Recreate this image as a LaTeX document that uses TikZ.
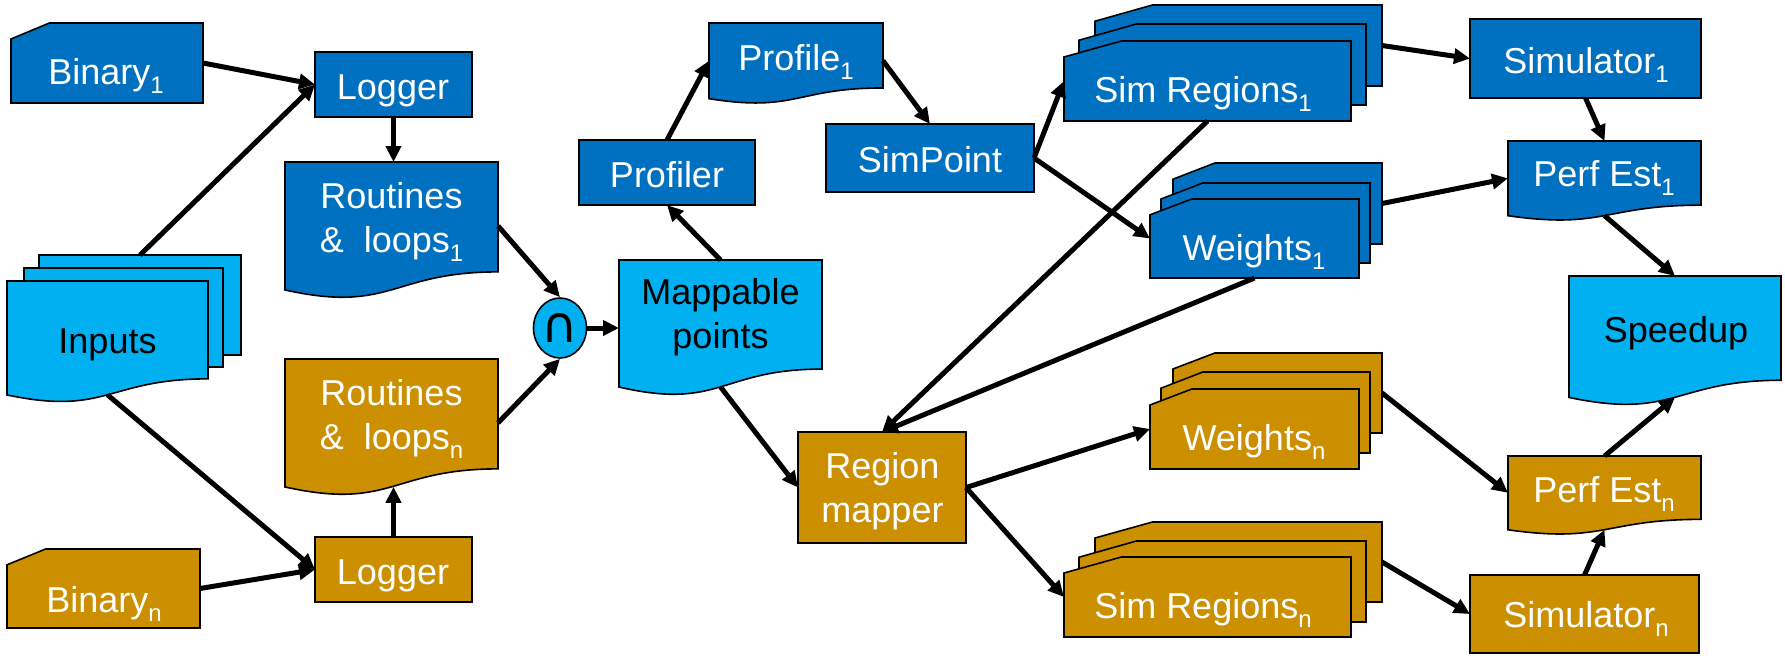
\documentclass[tikz,border=0pt]{standalone}
\usepackage{fontspec}
\setmainfont{Liberation Sans}
\newfontfamily\symfont{DejaVu Sans}
\usetikzlibrary{arrows.meta,fit,shapes.geometric}
\definecolor{dblue}{HTML}{0070C0}
\definecolor{lblue}{HTML}{00B0F0}
\definecolor{gold}{RGB}{204,143,0}

% lowered index used in the labels
\newcommand\subidx[1]{\raisebox{-4.5pt}{\fontsize{12}{12}\selectfont #1}}

\tikzset{
  outline/.style={draw=black, line width=0.8pt, line join=miter},
  frame/.style={inner sep=0pt, outer sep=0pt},
  rectbox/.style={outline, inner sep=0pt, outer sep=0pt},
  lbl/.style={anchor=base, inner sep=0pt, align=center, font=\fontsize{18}{22}\selectfont},
  wlbl/.style={lbl, text=white},
  klbl/.style={lbl, text=black},
  flow/.style={line width=2.5pt, -{Triangle[length=8pt,width=7.5pt]}},
}

% document sheet with a wavy lower edge: name, fill, x1, y1, x2, height
\newcommand\docshape[6]{%
  \path[outline, fill=#2] (#3,#4) -- (#5,#4) -- (#5,{#4+0.802*#6})
    .. controls ({(#3+#5)/2},{#4+0.802*#6}) and ({(#3+#5)/2},{#4+1.107*#6}) .. (#3,{#4+0.934*#6}) -- cycle;
  \node[frame, fit={(#3,#4) (#5,{#4+0.933*#6})}] (#1) {};}

% punched card with a cut upper-left corner: name, fill, x1, y1, x2, y2
\newcommand\cardshape[6]{%
  \path[outline, fill=#2] ({#3+0.2*(#5-#3)},#4) -- (#5,#4) -- (#5,#6) -- (#3,#6) -- (#3,{#4+0.2*(#6-#4)}) -- cycle;
  \node[frame, fit={(#3,#4) (#5,#6)}] (#1) {};}

\begin{document}
\begin{tikzpicture}[x=0.5pt, y=-0.5pt]
\useasboundingbox (0,0) rectangle (1785,655);

% ---- left column: binaries, inputs, loggers ----
\cardshape{bin1}{dblue}{11}{23}{203}{103}
\node[wlbl] (bin1-t) at (106,84) {Binary\subidx{1}};

\node[rectbox, fill=lblue, fit={(39,255) (241,355)}] (in3) {};
\node[rectbox, fill=lblue, fit={(24,268) (223,367)}] (in2) {};
\docshape{in1}{lblue}{7}{281}{208}{122}
\node[klbl] (in1-t) at (107.5,353) {Inputs};

\cardshape{binn}{gold}{7}{549}{200}{628}
\node[wlbl] (binn-t) at (104,612) {Binary\subidx{n}};

\node[rectbox, fill=dblue, fit={(315,52) (472,117)}] (log1) {};
\node[wlbl] (log1-t) at (393,99) {Logger};
\node[rectbox, fill=gold, fit={(315,537) (472,602)}] (logn) {};
\node[wlbl] (logn-t) at (393,584) {Logger};

% (multi-line labels are placed by the baseline of their last line)
\docshape{rout1}{dblue}{285}{162}{498}{137}
\node[wlbl] (rout1-t) at (391.5,252) {Routines\\\&\ \ loops\subidx{1}};
\docshape{routn}{gold}{285}{359}{498}{137}
\node[wlbl] (routn-t) at (391.5,449) {Routines\\\&\ \ loops\subidx{n}};

% ---- intersection and mappable points ----
\node[ellipse, outline, fill=lblue, minimum width=26.5pt, minimum height=30pt, inner sep=0pt] (cap) at (560,328)
  {\symfont\fontsize{25}{25}\selectfont ∩};

\docshape{mapp}{lblue}{619}{260}{822}{136}
\node[klbl] (mapp-t) at (720.5,348) {Mappable\\points};

\node[rectbox, fill=dblue, fit={(579,140) (755,205)}] (prof) {};
\node[wlbl] (prof-t) at (667,187) {Profiler};

\docshape{prof1}{dblue}{709}{23}{883}{81}
\node[wlbl] (prof1-t) at (796,70) {Profile\subidx{1}};

\node[rectbox, fill=dblue, fit={(826,124) (1034,192)}] (simp) {};
\node[wlbl] (simp-t) at (930,172) {SimPoint};

\node[rectbox, fill=gold, fit={(798,432) (966,543)}] (rmap) {};
\node[wlbl] (rmap-t) at (882.5,522) {Region\\mapper};

% ---- per-binary regions and weights ----
\cardshape{sr1c}{dblue}{1095}{5}{1382}{86}
\cardshape{sr1b}{dblue}{1079}{24}{1366}{105}
\cardshape{sr1a}{dblue}{1064}{41}{1351}{121}
\node[wlbl] (sr1-t) at (1203,102) {Sim Regions\subidx{1}};

\cardshape{w1c}{dblue}{1173}{163}{1382}{244}
\cardshape{w1b}{dblue}{1161}{183}{1370}{263}
\cardshape{w1a}{dblue}{1150}{199}{1359}{278}
\node[wlbl] (w1-t) at (1254,260) {Weights\subidx{1}};

\cardshape{wnc}{gold}{1173}{353}{1382}{433}
\cardshape{wnb}{gold}{1161}{372}{1370}{453}
\cardshape{wna}{gold}{1150}{389}{1359}{469}
\node[wlbl] (wn-t) at (1254,450) {Weights\subidx{n}};

\cardshape{srnc}{gold}{1095}{522}{1382}{602}
\cardshape{srnb}{gold}{1079}{541}{1366}{622}
\cardshape{srna}{gold}{1064}{557}{1351}{637}
\node[wlbl] (srn-t) at (1203,618) {Sim Regions\subidx{n}};

% ---- simulation and estimates ----
\node[rectbox, fill=dblue, fit={(1470,19) (1701,98)}] (sim1) {};
\node[wlbl] (sim1-t) at (1586,73) {Simulator\subidx{1}};
\node[rectbox, fill=gold, fit={(1470,575) (1699,653)}] (simn) {};
\node[wlbl] (simn-t) at (1586,627) {Simulator\subidx{n}};

\docshape{pe1}{dblue}{1508}{141}{1701}{80}
\node[wlbl] (pe1-t) at (1604,186) {Perf Est\subidx{1}};
\docshape{pen}{gold}{1508}{456}{1701}{79}
\node[wlbl] (pen-t) at (1604,502) {Perf Est\subidx{n}};

\docshape{spd}{lblue}{1569}{276}{1781}{130}
\node[klbl] (spd-t) at (1676,342) {Speedup};

% ---- connectors ----
\draw[flow] (bin1.east) -- (log1.west);
\draw[flow] (in3.north) -- (log1.west);
\draw[flow] (in1.south) -- (logn.west);
\draw[flow] (binn.east) -- (logn.west);
\draw[flow] (log1.south) -- (log1.south |- rout1.north);
\draw[flow] (logn.north) -- (logn.north |- routn.south);
\draw[flow] (rout1.east) -- (cap.north);
\draw[flow] (routn.east) -- (cap.south);
\draw[flow] (cap.east) -- (cap.east -| mapp.west);
\draw[flow] (mapp.north) -- (prof.south);
\draw[flow] (prof.north) -- (prof1.west);
\draw[flow] (prof1.east) -- (simp.north);
\draw[flow] (simp.east) -- (sr1a.west);
\draw[flow] (simp.east) -- (w1a.west);
\draw[flow] (sr1a.south) -- (rmap.north);
\draw[flow] (w1a.south) -- (rmap.north);
\draw[flow] (mapp.south) -- (rmap.west);
\draw[flow] (rmap.east) -- (wna.west);
\draw[flow] (rmap.east) -- (srna.west);
\draw[flow] (sr1c.east) -- (sim1.west);
\draw[flow] (sim1.south) -- (pe1.north);
\draw[flow] (w1c.east) -- (pe1.west);
\draw[flow] (pe1.south) -- (spd.north);
\draw[flow] (wnc.east) -- (pen.west);
\draw[flow] (srnc.east) -- (simn.west);
\draw[flow] (simn.north) -- (pen.south);
\draw[flow] (pen.north) -- (spd.south);
\end{tikzpicture}
\end{document}
